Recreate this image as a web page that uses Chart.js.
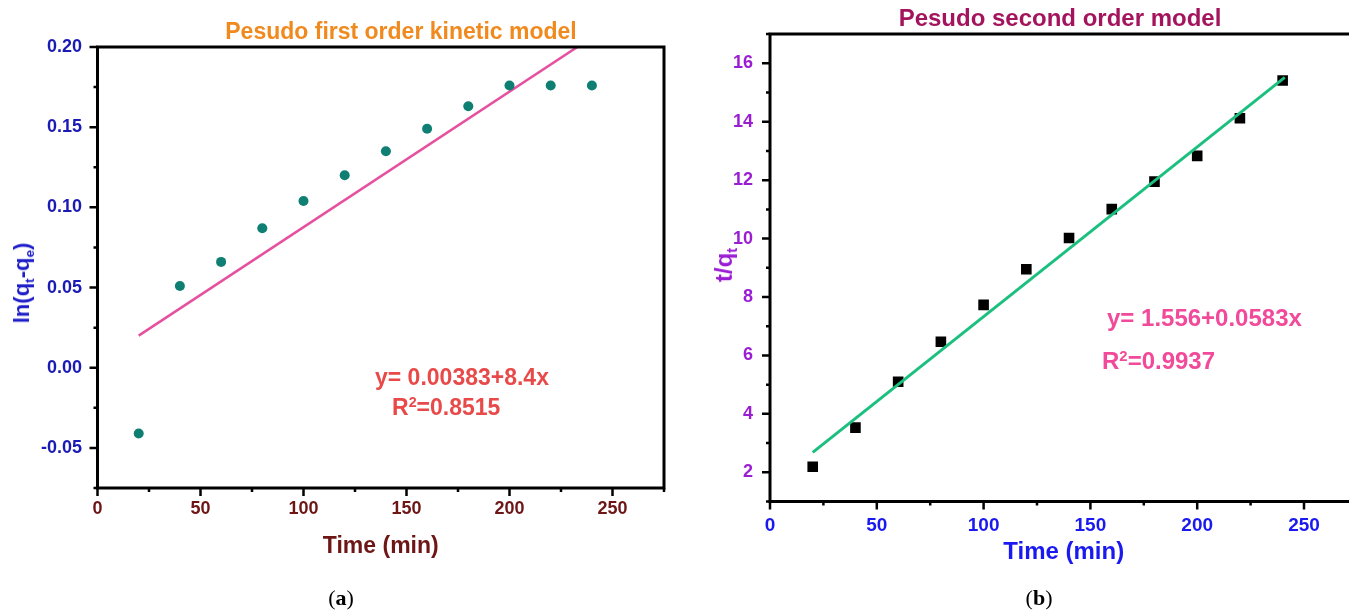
<!doctype html>
<html lang="en">
<head>
<meta charset="utf-8">
<title>Pesudo first / second order kinetic models</title>
<script src="https://cdn.jsdelivr.net/npm/chart.js@4.4.0/dist/chart.umd.min.js"></script>
<style>
  html, body { margin: 0; padding: 0; background: #fff; }
  body { width: 1349px; height: 610px; position: relative; overflow: hidden;
         font-family: "Liberation Sans", Arial, sans-serif; font-weight: bold; }
  canvas { position: absolute; top: 0; }
  #chartA { left: 0; }
  #chartB { left: 680px; }
  .lbl { position: absolute; white-space: nowrap; line-height: 1; }
  .c { transform: translate(-50%, -50%); }
  .l { transform: translateY(-50%); }
  .rot { transform: translate(-50%, -50%) rotate(-90deg); }
  .lbl sub { font-size: 0.62em; vertical-align: -0.35em; line-height: 0; }
  .lbl sup { font-size: 0.62em; vertical-align: 0.55em; line-height: 0; }
  .cap { font-family: "Liberation Serif", "DejaVu Serif", serif; font-weight: normal; font-size: 22px; }
</style>
</head>
<body>

<canvas id="chartA" width="680" height="610"></canvas>
<canvas id="chartB" width="700" height="610"></canvas>

<div class="lbl c" style="left:401px;top:31px;font-size:23px;color:#f08a1e">Pesudo first order kinetic model</div>
<div class="lbl rot" style="left:22px;top:283px;font-size:22px;color:#1c1cc8">ln(q<sub>t</sub>-q<sub>e</sub>)</div>
<div class="lbl l" style="left:375px;top:377px;font-size:23px;color:#e84a4a">y= 0.00383+8.4x</div>
<div class="lbl l" style="left:392px;top:407px;font-size:23px;color:#e84a4a">R<sup>2</sup>=0.8515</div>
<div class="lbl c cap" style="left:341px;top:598px">(<b>a</b>)</div>

<div class="lbl c" style="left:1060px;top:18px;font-size:24px;color:#a3145c">Pesudo second order model</div>
<div class="lbl rot" style="left:724px;top:265px;font-size:24px;color:#9b1dd3">t/q<sub>t</sub></div>
<div class="lbl l" style="left:1107px;top:318px;font-size:24px;color:#f24a9a">y= 1.556+0.0583x</div>
<div class="lbl l" style="left:1102px;top:361px;font-size:24px;color:#f24a9a">R<sup>2</sup>=0.9937</div>
<div class="lbl c cap" style="left:1039px;top:598px">(<b>b</b>)</div>

<script>
// contact time (min)
const timeMin = [20, 40, 60, 80, 100, 120, 140, 160, 180, 200, 220, 240];

// (a) pseudo first order: ln(qt-qe)
const lnQtQe = [-0.041, 0.051, 0.066, 0.087, 0.104, 0.120, 0.135, 0.149, 0.163, 0.176, 0.176, 0.176];
const fitAX = [20, 240];
const fitAY = [0.020, 0.206];

// (b) pseudo second order: t/qt
const tOverQt = [2.19, 3.53, 5.10, 6.47, 7.73, 8.95, 10.02, 11.01, 11.95, 12.83, 14.12, 15.41];
const fitBX = [20, 241];
const fitBY = [2.68, 15.52];

// tick labels
const xTicks = [0, 50, 100, 150, 200, 250];
const yTicksA = [-0.05, 0.00, 0.05, 0.10, 0.15, 0.20];
const yTicksB = [2, 4, 6, 8, 10, 12, 14, 16];

const FONT = 'Liberation Sans';

// box frame + major/minor tick marks drawn from the scales
const framePlugin = {
  id: 'frame',
  afterDraw(chart, args, opts) {
    const {ctx, chartArea: a, scales: {x, y}} = chart;
    ctx.save();
    ctx.strokeStyle = '#000';
    ctx.lineCap = 'square';
    ctx.lineWidth = 3;
    ctx.beginPath();
    ctx.moveTo(a.left, a.bottom); ctx.lineTo(a.left, a.top); ctx.lineTo(a.right, a.top);
    if (opts.rightBorder) ctx.lineTo(a.right, a.bottom);
    ctx.moveTo(a.left, a.bottom); ctx.lineTo(a.right, a.bottom);
    ctx.stroke();

    ctx.lineCap = 'butt';
    ctx.lineWidth = 2.5;
    ctx.beginPath();
    const isMajor = (v, list) => list.some(m => Math.abs(m - v) < 1e-9);
    for (let v = x.min; v <= x.max + 1e-9; v += opts.xStep / 2) {
      const len = isMajor(v, opts.xMajor) ? 8 : 4;
      const px = x.getPixelForValue(v);
      ctx.moveTo(px, a.bottom); ctx.lineTo(px, a.bottom + len);
    }
    for (let v = y.min; v <= y.max + 1e-9; v += opts.yStep / 2) {
      const len = isMajor(v, opts.yMajor) ? 8 : 4;
      const py = y.getPixelForValue(v);
      ctx.moveTo(a.left, py); ctx.lineTo(a.left - len, py);
    }
    ctx.stroke();
    ctx.restore();
  }
};

const setTicks = list => scale => { scale.ticks = list.map(v => ({value: v})); };

new Chart(document.getElementById('chartA'), {
  type: 'scatter',
  data: {
    datasets: [
      {
        label: 'ln(qt-qe)',
        data: timeMin.map((t, i) => ({x: t, y: lnQtQe[i]})),
        pointRadius: 5,
        pointBackgroundColor: '#0f7f74',
        pointBorderWidth: 0
      },
      {
        label: 'Linear fit',
        data: fitAX.map((t, i) => ({x: t, y: fitAY[i]})),
        showLine: true,
        borderColor: '#e6519f',
        borderWidth: 2.5,
        pointRadius: 0
      }
    ]
  },
  options: {
    responsive: false,
    animation: false,
    layout: {padding: {left: 0, top: 47, right: 16, bottom: 0}},
    plugins: {
      legend: {display: false},
      tooltip: {enabled: false},
      frame: {rightBorder: true, xStep: 50, xMajor: xTicks, yStep: 0.05, yMajor: yTicksA}
    },
    scales: {
      x: {
        type: 'linear', min: 0, max: 275,
        afterBuildTicks: setTicks(xTicks),
        afterFit: s => { s.height = 122; },
        grid: {display: false, drawTicks: false},
        border: {display: false},
        ticks: {autoSkip: false, maxRotation: 0, padding: 10.6, color: '#6e1616',
                font: {family: FONT, size: 18, weight: 'bold'}},
        title: {display: true, text: 'Time (min)', color: '#6e1616', padding: {top: 0, bottom: 49.2},
                font: {family: FONT, size: 23, weight: 'bold'}}
      },
      y: {
        type: 'linear', min: -0.075, max: 0.20,
        afterBuildTicks: setTicks(yTicksA),
        afterFit: s => { s.width = 97.5; },
        grid: {display: false, drawTicks: false},
        border: {display: false},
        ticks: {autoSkip: false, padding: 15.5, color: '#1a1ab4',
                font: {family: FONT, size: 18, weight: 'bold'},
                callback: v => v.toFixed(2)}
      }
    }
  },
  plugins: [framePlugin]
});

new Chart(document.getElementById('chartB'), {
  type: 'scatter',
  data: {
    datasets: [
      {
        label: 'Linear fit',
        data: fitBX.map((t, i) => ({x: t, y: fitBY[i]})),
        showLine: true,
        borderColor: '#1bc07f',
        borderWidth: 3,
        pointRadius: 0
      },
      {
        label: 't/qt',
        data: timeMin.map((t, i) => ({x: t, y: tOverQt[i]})),
        pointStyle: 'rect',
        pointRadius: 7.5,
        pointBackgroundColor: '#000',
        pointBorderWidth: 0
      }
    ]
  },
  options: {
    responsive: false,
    animation: false,
    layout: {padding: {left: 0, top: 34.1, right: 22.6, bottom: 0}},
    plugins: {
      legend: {display: false},
      tooltip: {enabled: false},
      frame: {rightBorder: false, xStep: 50, xMajor: xTicks, yStep: 2, yMajor: yTicksB}
    },
    scales: {
      x: {
        type: 'linear', min: 0, max: 275,
        afterBuildTicks: setTicks(xTicks),
        afterFit: s => { s.height = 108.5; },
        grid: {display: false, drawTicks: false},
        border: {display: false},
        ticks: {autoSkip: false, maxRotation: 0, padding: 13.1, color: '#1a1af0',
                font: {family: FONT, size: 19, weight: 'bold'}},
        title: {display: true, text: 'Time (min)', color: '#1a1af0', padding: {top: 0, bottom: 43.6},
                font: {family: FONT, size: 24, weight: 'bold'}}
      },
      y: {
        type: 'linear', min: 1, max: 17,
        afterBuildTicks: setTicks(yTicksB),
        afterFit: s => { s.width = 90; },
        grid: {display: false, drawTicks: false},
        border: {display: false},
        ticks: {autoSkip: false, padding: 17, color: '#9b1dd3',
                font: {family: FONT, size: 18, weight: 'bold'}}
      }
    }
  },
  plugins: [framePlugin]
});
</script>
</body>
</html>
